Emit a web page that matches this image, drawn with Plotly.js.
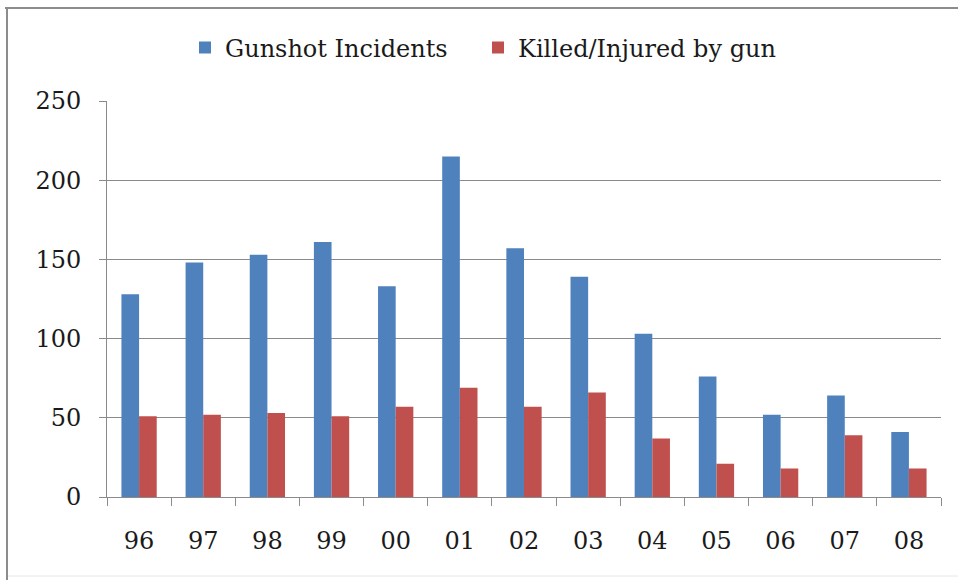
<!DOCTYPE html>
<html>
<head>
<meta charset="utf-8">
<script src="https://cdn.plot.ly/plotly-3.0.1.min.js"></script>
<style>
html,body{margin:0;padding:0;background:#fff;}
#chart{width:958px;height:580px;}
</style>
</head>
<body>
<div id="chart"></div>
<script>
const categories = ["96","97","98","99","00","01","02","03","04","05","06","07","08"];
const gunshotIncidents = [128,148,153,161,133,215,157,139,103,76,52,64,41];
const killedInjured = [51,52,53,51,57,69,57,66,37,21,18,39,18];
const seriesNames = ["Gunshot Incidents","Killed/Injured by gun"];
const yTicks = [0,50,100,150,200,250];

const W = 958, H = 580;
const M = {l:107, r:17, t:101, b:83};
const pw = W - M.l - M.r, ph = H - M.t - M.b;
const px = x => (x - M.l) / pw;
const py = y => (H - M.b - y) / ph;

const font = {family:"DejaVu Serif, serif", size:24, color:"#1a1a1a"};
const gray = "#8a8a8a";

const data = [
  {type:"bar", name:seriesNames[0], x:categories, y:gunshotIncidents,
   marker:{color:"#4F81BD"}, hoverinfo:"x+y+name", legend:"legend"},
  {type:"bar", name:seriesNames[1], x:categories, y:killedInjured,
   marker:{color:"#C0504D"}, hoverinfo:"x+y+name", legend:"legend2"}
];

const legendBase = {orientation:"h", xanchor:"left", y:py(48), yanchor:"middle",
                    font:font, bgcolor:"rgba(0,0,0,0)"};

const layout = {
  width:W, height:H,
  margin:{l:M.l, r:M.r, t:M.t, b:M.b, pad:0},
  paper_bgcolor:"#fff", plot_bgcolor:"#fff",
  font:font,
  barmode:"group", bargap:0.45, bargroupgap:0,
  showlegend:true,
  legend:Object.assign({}, legendBase, {x:px(185)}),
  legend2:Object.assign({}, legendBase, {x:px(478)}),
  xaxis:{type:"category", showline:true, linecolor:gray, linewidth:1,
         ticks:"outside", tickson:"boundaries", ticklen:8, tickcolor:gray,
         showgrid:false, zeroline:false, ticklabelstandoff:22, tickfont:font},
  yaxis:{range:[0,250], tickvals:yTicks, ticktext:yTicks.map(String),
         showline:true, linecolor:gray, linewidth:1,
         ticks:"outside", ticklen:7, tickcolor:gray,
         showgrid:true, gridcolor:gray, gridwidth:1, zeroline:false,
         ticklabelstandoff:13, tickfont:font},
  shapes:[
    {type:"line", xref:"paper", yref:"paper", x0:px(5), x1:px(958), y0:py(8), y1:py(8),
     line:{color:"#8c8c8c", width:2}},
    {type:"line", xref:"paper", yref:"paper", x0:px(7), x1:px(7), y0:py(7), y1:py(580),
     line:{color:"#8c8c8c", width:2}},
    {type:"line", xref:"paper", yref:"paper", x0:px(8), x1:px(958), y0:py(576), y1:py(576),
     line:{color:"#e6e6e6", width:1}}
  ]
};

Plotly.newPlot("chart", data, layout, {staticPlot:true, displayModeBar:false});
</script>
</body>
</html>
